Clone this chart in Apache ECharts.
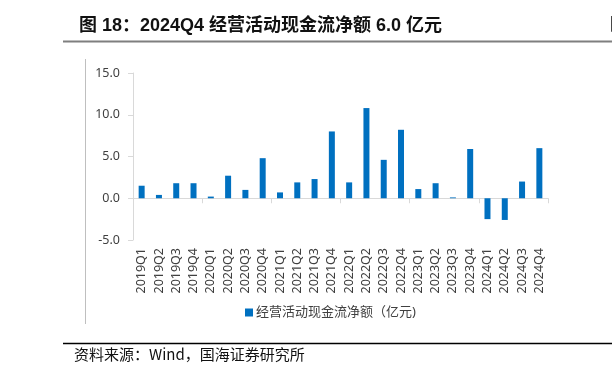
<!DOCTYPE html>
<html>
<head>
<meta charset="utf-8">
<script src="https://cdn.jsdelivr.net/npm/echarts@6/dist/echarts.min.js"></script>
<style>
html,body{margin:0;padding:0;background:#fff;}
#c{width:612px;height:379px;}
</style>
</head>
<body>
<div id="c"></div>
<script>
var categories = ['2019Q1','2019Q2','2019Q3','2019Q4','2020Q1','2020Q2','2020Q3','2020Q4','2021Q1','2021Q2','2021Q3','2021Q4','2022Q1','2022Q2','2022Q3','2022Q4','2023Q1','2023Q2','2023Q3','2023Q4','2024Q1','2024Q2','2024Q3','2024Q4'];
var cashFlow = [1.5, 0.4, 1.8, 1.8, 0.2, 2.7, 1.0, 4.8, 0.7, 1.9, 2.3, 8.0, 1.9, 10.8, 4.6, 8.2, 1.1, 1.8, 0.1, 5.9, -2.5, -2.6, 2.0, 6.0];
var seriesName = '经营活动现金流净额（亿元)';
var yTicks = {min: -5, max: 15, interval: 5};
var titleText = '图 18：2024Q4 经营活动现金流净额 6.0 亿元';
var sourceText = '资料来源：Wind，国海证券研究所';

var chart = echarts.init(document.getElementById('c'), null, {renderer: 'canvas'});
var font = '"Noto Sans", "Noto Sans CJK SC", sans-serif';
chart.setOption({
  animation: false,
  backgroundColor: '#ffffff',
  title: {
    text: titleText,
    left: 74, top: 12,
    textStyle: {fontFamily: '"Liberation Sans", "Noto Sans CJK SC", sans-serif', fontSize: 18, fontWeight: 'bold', color: '#111'}
  },
  grid: {left: 133, right: 64, top: 73, bottom: 139, containLabel: false},
  legend: {
    data: [seriesName],
    left: 240, top: 301,
    itemWidth: 8, itemHeight: 8, itemGap: 4,
    icon: 'rect',
    textStyle: {fontFamily: font, fontSize: 13, color: '#404040', padding: [0,0,0,-2]}
  },
  xAxis: [{
    type: 'category',
    data: categories,
    position: 'bottom',
    axisLine: {show: false, onZero: false},
    axisTick: {show: false},
    axisLabel: {rotate: 90, margin: 8, fontFamily: font, fontSize: 12.5, color: '#404040', interval: 0}
  }, {
    type: 'category',
    data: categories,
    position: 'bottom',
    axisLine: {show: true, onZero: true, lineStyle: {color: '#d9d9d9', width: 1}},
    axisTick: {show: true, length: 5, inside: false, lineStyle: {color: '#d9d9d9'}},
    axisLabel: {show: false}
  }],
  yAxis: {
    type: 'value',
    min: yTicks.min, max: yTicks.max, interval: yTicks.interval,
    axisLine: {show: true, lineStyle: {color: '#d9d9d9'}},
    axisTick: {show: true, length: 5, lineStyle: {color: '#d9d9d9'}},
    splitLine: {show: false},
    axisLabel: {margin: 13, fontFamily: font, fontSize: 12.5, color: '#404040',
      formatter: function(v){ return v.toFixed(1); }}
  },
  series: [{
    name: seriesName,
    type: 'bar',
    xAxisIndex: 0,
    data: cashFlow,
    barWidth: 6,
    itemStyle: {color: '#0070C0'}
  }],
  graphic: [
    {type: 'line', shape: {x1: 63, y1: 41.5, x2: 612, y2: 41.5}, style: {stroke: '#7f7f7f', lineWidth: 2}},
    {type: 'line', shape: {x1: 85.5, y1: 59, x2: 85.5, y2: 324}, style: {stroke: '#bfbfbf', lineWidth: 1}},
    {type: 'line', shape: {x1: 63, y1: 343.5, x2: 612, y2: 343.5}, style: {stroke: '#000', lineWidth: 1.5}},
    {type: 'text', left: 74, top: 347, style: {text: sourceText, font: '15px "Noto Sans CJK SC", sans-serif', fill: '#111'}},
    {type: 'text', left: 610, top: 15, style: {text: '图', font: 'bold 17px "Noto Sans CJK SC", sans-serif', fill: '#111'}}
  ]
});
</script>
</body>
</html>
